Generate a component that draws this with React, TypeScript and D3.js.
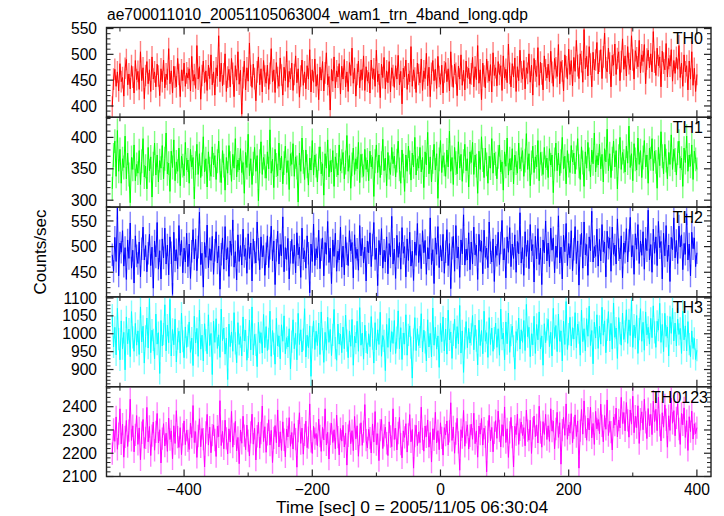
import React from "react";
import * as d3 from "d3";

// Light curve: time bins from -512 s to 400 s (2 s sampling)
const T_START = -512;
const T_END = 400;

const th0 = [
  398, 452, 471, 438, 466, 429, 482, 447, 455, 419, 473, 490, 441, 462, 433, 478, 456, 425, 488, 451,
  467, 432, 505, 449, 474, 414, 459, 486, 443, 470, 428, 495, 452, 466, 437, 481, 458, 420, 472, 447,
  489, 435, 462, 451, 511, 443, 468, 425, 477, 456, 437, 492, 461, 418, 470, 449, 483, 438, 464, 454,
  472, 429, 496, 448, 461, 434, 517, 452, 476, 413, 459, 487, 445, 468, 430, 479, 453, 499, 441, 466,
  421, 474, 458, 536, 447, 483, 439, 462, 501, 428, 456, 471, 437, 492, 463, 418, 478, 450, 505, 442,
  469, 384, 455, 487, 431, 474, 448, 522, 459, 436, 481, 453, 410, 466, 495, 441, 472, 427, 488, 458,
  444, 479, 432, 463, 511, 447, 470, 426, 484, 455, 438, 493, 460, 421, 475, 449, 506, 436, 467, 452,
  483, 430, 461, 497, 445, 472, 417, 458, 489, 440, 466, 433, 478, 452, 509, 427, 470, 446, 491, 438,
  461, 412, 475, 450, 486, 429, 464, 503, 441, 457, 392, 471, 448, 495, 435, 468, 456, 482, 423, 477,
  452, 490, 437, 466, 428, 484, 459, 512, 444, 473, 419, 461, 487, 435, 470, 451, 497, 430, 476, 448,
  465, 425, 489, 453, 472, 438, 508, 447, 462, 416, 481, 455, 494, 433, 468, 445, 486, 427, 474, 459,
  436, 478, 452, 498, 441, 467, 404, 473, 456, 489, 432, 462, 447, 515, 438, 470, 454, 426, 483, 461,
  445, 491, 430, 468, 453, 502, 439, 475, 418, 463, 488, 449, 471, 434, 496, 457, 442, 479, 425, 466,
  484, 447, 472, 429, 505, 458, 436, 481, 463, 420, 477, 452, 499, 440, 469, 431, 487, 455, 473, 443,
  462, 494, 437, 476, 451, 517, 444, 470, 412, 483, 458, 435, 491, 466, 448, 480, 427, 503, 459, 474,
  439, 486, 461, 478, 430, 497, 454, 471, 445, 520, 463, 437, 482, 456, 493, 428, 476, 449, 508, 466,
  452, 488, 433, 474, 463, 501, 446, 479, 421, 492, 468, 457, 513, 440, 485, 462, 431, 497, 470, 454,
  481, 447, 506, 465, 438, 492, 474, 457, 519, 443, 486, 468, 429, 499, 476, 452, 510, 461, 488, 439,
  494, 467, 527, 478, 453, 501, 486, 446, 548, 472, 496, 458, 515, 481, 437, 504, 470, 489, 523, 462,
  487, 509, 453, 495, 541, 474, 466, 512, 483, 437, 498, 479, 520, 461, 492, 505, 449, 486, 530, 471,
  497, 458, 515, 482, 470, 536, 489, 452, 507, 493, 476, 527, 464, 499, 486, 519, 443, 491, 508, 474,
  501, 466, 544, 485, 459, 512, 478, 495, 437, 506, 483, 470, 521, 456, 492, 477, 509, 448, 488, 463,
  494, 471, 517, 455, 483, 438, 499, 466, 478, 431, 487, 452, 505, 440, 473, 428, 461,
];

const th1 = [
  318, 372, 394, 338, 411, 346, 381, 327, 366, 352, 402, 334, 375, 341, 296, 368, 349, 388, 331, 357,
  343, 379, 325, 362, 398, 337, 354, 318, 384, 347, 369, 305, 358, 391, 340, 372, 329, 363, 351, 387,
  334, 366, 407, 342, 359, 314, 378, 352, 396, 331, 361, 346, 383, 323, 370, 355, 339, 392, 348, 364,
  327, 381, 353, 368, 302, 359, 389, 341, 374, 336, 357, 401, 345, 366, 321, 377, 350, 338, 385, 356,
  371, 333, 362, 394, 347, 328, 379, 355, 316, 368, 343, 387, 359, 330, 373, 351, 398, 337, 364, 348,
  382, 344, 360, 311, 376, 352, 405, 339, 366, 325, 358, 384, 346, 371, 299, 362, 393, 341, 368, 354,
  335, 377, 350, 412, 343, 365, 320, 381, 356, 339, 391, 348, 370, 326, 359, 386, 344, 363, 317, 374,
  357, 390, 338, 369, 352, 297, 375, 346, 399, 361, 333, 380, 354, 324, 367, 348, 395, 340, 372, 355,
  329, 366, 385, 342, 358, 308, 374, 351, 396, 337, 363, 345, 379, 322, 369, 356, 340, 388, 347, 362,
  376, 334, 360, 403, 346, 371, 319, 357, 383, 341, 366, 350, 392, 328, 373, 355, 338, 381, 349, 364,
  331, 378, 353, 369, 306, 362, 388, 344, 372, 336, 359, 397, 347, 367, 323, 376, 352, 341, 384, 358,
  370, 337, 363, 394, 349, 327, 380, 355, 314, 372, 346, 386, 360, 332, 375, 353, 400, 340, 366, 351,
  384, 345, 368, 320, 377, 356, 408, 342, 369, 329, 361, 389, 348, 374, 303, 365, 395, 344, 371, 357,
  338, 380, 353, 410, 346, 368, 325, 384, 359, 342, 393, 351, 373, 330, 362, 389, 347, 366, 321, 377,
  360, 392, 341, 372, 355, 311, 378, 349, 401, 364, 336, 383, 357, 327, 370, 351, 398, 343, 375, 358,
  334, 369, 388, 345, 361, 316, 377, 354, 399, 340, 366, 348, 382, 326, 372, 359, 343, 391, 350, 365,
  379, 338, 363, 406, 349, 374, 323, 360, 386, 344, 369, 353, 395, 331, 376, 358, 341, 384, 352, 367,
  336, 382, 356, 372, 312, 365, 391, 347, 375, 339, 362, 400, 350, 370, 326, 379, 355, 344, 387, 361,
  375, 342, 368, 398, 354, 333, 385, 360, 322, 377, 351, 392, 365, 337, 380, 358, 407, 345, 371, 356,
  389, 350, 373, 329, 382, 361, 413, 347, 374, 336, 366, 394, 353, 379, 318, 370, 400, 349, 376, 362,
  345, 386, 359, 418, 352, 374, 331, 390, 365, 348, 399, 357, 379, 336, 368, 395, 353, 372, 327, 383,
  366, 398, 347, 378, 361, 319, 384, 355, 409, 370, 342, 389, 363, 334, 376, 357, 404, 349, 381, 364,
  340, 375, 394, 351, 367, 322, 383, 360, 402, 346, 372, 354, 388, 333, 378, 365, 349,
];

const th2 = [
  484, 452, 518, 471, 575, 443, 507, 489, 531, 462, 498, 436, 513, 477, 546, 458, 493, 429, 521, 482,
  467, 509, 441, 496, 538, 474, 502, 451, 487, 524, 463, 499, 419, 511, 480, 547, 456, 492, 437, 515,
  478, 536, 466, 503, 445, 519, 488, 407, 528, 472, 494, 457, 541, 483, 512, 449, 497, 470, 526, 461,
  505, 438, 491, 533, 476, 514, 453, 499, 567, 465, 487, 421, 508, 479, 542, 459, 496, 473, 520, 446,
  493, 529, 468, 501, 417, 485, 517, 456, 539, 474, 498, 442, 511, 483, 552, 460, 490, 435, 523, 471,
  502, 464, 534, 481, 496, 448, 525, 477, 507, 433, 515, 489, 468, 548, 495, 455, 519, 480, 502, 444,
  486, 521, 459, 497, 540, 472, 511, 426, 493, 530, 466, 504, 482, 558, 451, 498, 475, 516, 437, 489,
  514, 467, 503, 449, 527, 484, 499, 440, 536, 476, 492, 458, 521, 487, 410, 505, 471, 544, 463, 496,
  478, 532, 457, 494, 517, 443, 508, 485, 549, 469, 497, 428, 513, 481, 526, 452, 491, 474, 538, 460,
  501, 445, 519, 486, 463, 531, 492, 508, 439, 523, 477, 495, 454, 541, 482, 516, 468, 499, 433, 511,
  488, 527, 461, 503, 547, 475, 497, 424, 512, 484, 535, 458, 493, 470, 519, 447, 506, 480, 559, 466,
  495, 438, 522, 479, 508, 456, 537, 487, 500, 441, 515, 473, 528, 462, 491, 434, 509, 483, 545, 469,
  504, 457, 531, 488, 512, 446, 498, 476, 556, 465, 494, 428, 517, 485, 539, 459, 502, 472, 524, 448,
  490, 533, 463, 506, 418, 497, 520, 452, 541, 478, 499, 440, 513, 486, 562, 464, 495, 474, 527, 455,
  509, 466, 538, 484, 503, 436, 524, 491, 511, 447, 532, 479, 497, 459, 548, 488, 470, 515, 432, 501,
  483, 528, 465, 507, 551, 474, 496, 439, 519, 489, 537, 461, 505, 477, 523, 450, 510, 486, 566, 468,
  498, 444, 529, 481, 512, 457, 543, 492, 504, 431, 520, 476, 535, 465, 497, 426, 513, 488, 550, 472,
  507, 461, 536, 493, 517, 449, 501, 479, 560, 468, 499, 437, 522, 490, 545, 463, 506, 478, 531, 453,
  495, 539, 467, 511, 425, 502, 526, 458, 548, 484, 504, 444, 519, 492, 569, 470, 500, 481, 534, 462,
  514, 472, 543, 490, 509, 441, 530, 497, 517, 452, 538, 485, 503, 466, 554, 494, 476, 521, 439, 507,
  489, 535, 470, 512, 557, 480, 502, 446, 525, 495, 543, 467, 511, 483, 529, 456, 516, 492, 571, 474,
  504, 450, 534, 487, 519, 463, 549, 498, 510, 437, 526, 482, 541, 471, 503, 432, 518, 494, 556, 478,
  512, 467, 540, 499, 523, 455, 506, 485, 564, 474, 505, 443, 528, 496, 517, 461, 488,
];

const th3 = [
  1052, 963, 1018, 941, 1071, 985, 927, 1036, 958, 1004, 899, 1047, 972, 1013, 936, 1062, 990, 951, 1029, 968,
  1008, 942, 1075, 977, 1021, 918, 993, 1044, 960, 1098, 947, 1010, 983, 930, 1055, 971, 1003, 889, 1037, 966,
  999, 1081, 952, 1024, 975, 1096, 938, 1012, 969, 1041, 921, 986, 1007, 946, 1058, 979, 933, 1019, 962, 995,
  1033, 948, 988, 911, 1049, 974, 1015, 937, 1066, 957, 996, 924, 1028, 982, 944, 1053, 967, 1001, 886, 1035,
  976, 1042, 959, 997, 934, 1069, 981, 1016, 943, 988, 872, 1027, 964, 1005, 951, 1059, 973, 919, 1031, 970,
  992, 938, 1047, 980, 1010, 926, 963, 1038, 955, 1075, 941, 998, 969, 908, 1032, 975, 1003, 946, 1054, 961,
  1020, 953, 986, 1063, 937, 1009, 972, 915, 1043, 966, 994, 930, 1025, 979, 1050, 944, 989, 963, 1014, 902,
  978, 1039, 958, 1001, 927, 1057, 970, 1011, 949, 984, 1070, 935, 996, 961, 1022, 881, 990, 1036, 956, 1007,
  967, 1030, 942, 1061, 985, 920, 1004, 954, 1046, 976, 1012, 939, 997, 1068, 960, 926, 1027, 971, 999, 947,
  1019, 958, 1052, 981, 933, 1008, 965, 1040, 912, 993, 974, 1035, 951, 1073, 968, 1002, 929, 1024, 977, 944,
  1000, 964, 1048, 986, 918, 1031, 955, 1011, 970, 1060, 937, 995, 980, 897, 1026, 962, 1043, 950, 1006, 973,
  1037, 945, 989, 1064, 958, 1017, 928, 1002, 971, 1053, 940, 997, 1022, 961, 876, 984, 1045, 953, 1014, 967,
  991, 1056, 949, 1010, 976, 924, 1039, 963, 1001, 935, 1072, 968, 1018, 957, 994, 906, 1029, 978, 1047, 952,
  1013, 943, 1066, 983, 1005, 931, 997, 1041, 959, 1020, 972, 1079, 946, 1008, 892, 987, 1034, 961, 1015, 974,
  998, 1051, 955, 1024, 981, 913, 1038, 967, 1009, 944, 1063, 979, 1003, 934, 1045, 970, 1016, 951, 988, 1030,
  962, 1014, 940, 1069, 985, 1002, 927, 1033, 972, 1058, 948, 996, 1021, 965, 901, 1006, 982, 1044, 957, 1011,
  976, 1037, 953, 1082, 992, 1018, 936, 1000, 969, 1049, 945, 1026, 983, 1061, 958, 994, 912, 1028, 975, 1012,
  1040, 964, 1004, 938, 1071, 987, 1023, 950, 1055, 979, 1008, 924, 1035, 970, 1090, 956, 999, 1046, 966, 1017,
  985, 1059, 961, 1027, 1003, 940, 1066, 978, 1014, 952, 1042, 993, 1077, 967, 1009, 916, 1032, 988, 1053, 959,
  1021, 971, 1074, 996, 1036, 947, 1011, 1062, 980, 1029, 957, 1086, 990, 1016, 931, 1045, 1002, 968, 1058, 984,
  1007, 1067, 973, 1039, 995, 1094, 962, 1024, 988, 1051, 945, 1013, 1070, 979, 1032, 954, 1061, 997, 1018, 971,
  1043, 989, 1078, 1004, 962, 1035, 1010, 1085, 976, 1026, 950, 1057, 993, 1019, 938, 1048, 1001, 1072, 980, 1030,
  966, 1041, 998, 1015, 945, 1063, 983, 1022, 952, 1034, 971, 936, 1008, 959, 987, 928, 954,
];

const th0123 = [
  2198, 2302, 2251, 2356, 2217, 2284, 2391, 2240, 2325, 2183, 2270, 2341, 2229, 2297, 2432, 2255, 2318, 2206, 2279, 2362,
  2238, 2309, 2172, 2288, 2345, 2221, 2266, 2397, 2249, 2315, 2190, 2276, 2334, 2213, 2292, 2371, 2244, 2301, 2158, 2263,
  2327, 2231, 2286, 2208, 2351, 2259, 2296, 2176, 2318, 2242, 2383, 2269, 2225, 2310, 2194, 2281, 2339, 2237, 2299, 2253,
  2216, 2330, 2267, 2405, 2246, 2293, 2182, 2274, 2348, 2228, 2306, 2261, 2141, 2289, 2367, 2235, 2312, 2202, 2278, 2322,
  2257, 2186, 2316, 2271, 2426, 2233, 2294, 2219, 2342, 2264, 2197, 2305, 2248, 2380, 2226, 2283, 2337, 2210, 2268, 2155,
  2300, 2243, 2359, 2276, 2215, 2321, 2254, 2188, 2290, 2368, 2239, 2307, 2171, 2273, 2333, 2222, 2287, 2403, 2250, 2314,
  2204, 2281, 2344, 2235, 2298, 2160, 2266, 2319, 2245, 2386, 2227, 2292, 2212, 2335, 2258, 2184, 2304, 2270, 2353, 2230,
  2289, 2218, 2327, 2261, 2140, 2295, 2374, 2242, 2308, 2196, 2279, 2338, 2224, 2267, 2412, 2251, 2199, 2316, 2263, 2285,
  2232, 2347, 2274, 2208, 2311, 2257, 2391, 2236, 2290, 2175, 2283, 2329, 2246, 2301, 2219, 2364, 2269, 2193, 2306, 2252,
  2320, 2227, 2286, 2149, 2275, 2340, 2241, 2297, 2211, 2358, 2262, 2318, 2187, 2280, 2331, 2234, 2293, 2409, 2256, 2223,
  2303, 2265, 2201, 2326, 2248, 2379, 2237, 2284, 2168, 2299, 2345, 2220, 2277, 2312, 2243, 2190, 2335, 2272, 2228, 2391,
  2259, 2308, 2214, 2287, 2354, 2239, 2180, 2296, 2268, 2327, 2205, 2281, 2366, 2249, 2302, 2136, 2274, 2320, 2233, 2291,
  2246, 2398, 2262, 2209, 2317, 2271, 2343, 2226, 2289, 2162, 2305, 2258, 2376, 2244, 2297, 2215, 2331, 2266, 2192, 2310,
  2278, 2339, 2236, 2294, 2417, 2255, 2313, 2200, 2284, 2350, 2247, 2127, 2301, 2267, 2384, 2230, 2290, 2322, 2218, 2275,
  2325, 2260, 2372, 2241, 2296, 2183, 2317, 2282, 2349, 2235, 2308, 2270, 2120, 2293, 2363, 2253, 2311, 2206, 2288, 2340,
  2264, 2381, 2296, 2227, 2323, 2273, 2399, 2246, 2305, 2182, 2290, 2354, 2269, 2141, 2316, 2280, 2368, 2238, 2301, 2334,
  2276, 2310, 2232, 2385, 2297, 2256, 2342, 2199, 2307, 2360, 2271, 2322, 2244, 2402, 2289, 2226, 2336, 2281, 2367, 2259,
  2318, 2251, 2391, 2295, 2338, 2219, 2304, 2376, 2268, 2331, 2153, 2299, 2354, 2277, 2412, 2260, 2322, 2286, 2370, 2245,
  2309, 2365, 2272, 2339, 2136, 2297, 2388, 2282, 2425, 2314, 2256, 2351, 2300, 2398, 2266, 2328, 2238, 2380, 2305, 2345,
  2284, 2411, 2318, 2249, 2362, 2303, 2429, 2276, 2337, 2291, 2214, 2356, 2321, 2394, 2270, 2343, 2309, 2440, 2328, 2375,
  2296, 2418, 2341, 2269, 2386, 2325, 2445, 2288, 2359, 2310, 2404, 2242, 2346, 2378, 2301, 2432, 2333, 2263, 2392, 2318,
  2367, 2280, 2424, 2336, 2389, 2297, 2441, 2320, 2253, 2374, 2312, 2408, 2344, 2226, 2361, 2298, 2437, 2329, 2383, 2275,
  2352, 2413, 2304, 2238, 2371, 2322, 2395, 2268, 2340, 2212, 2357, 2293, 2381, 2261, 2327, 2284, 2310,
];

const panelNames = ["TH0", "TH1", "TH2", "TH3", "TH0123"];
const panelSeries = [th0, th1, th2, th3, th0123];
const panelErrors = [21, 19, 22, 31, 48];
const panelColors = ["#ff0000", "#00ff00", "#0000ff", "#00ffff", "#ff00ff"];
const yDomains: [number, number][] = [
  [378, 552],
  [289, 432],
  [402, 577],
  [852, 1103],
  [2100, 2486],
];
const yMajorTicks = [
  [400, 450, 500, 550],
  [300, 350, 400],
  [450, 500, 550],
  [900, 950, 1000, 1050, 1100],
  [2100, 2200, 2300, 2400],
];
const yMinorSteps = [10, 10, 10, 10, 20];
const xMajorTicks = [-400, -200, 0, 200, 400];
const xMinorTicks = [-500, -300, -100, 100, 300];
const xDomain: [number, number] = [-521, 422];

const titleText = "ae700011010_20051105063004_wam1_trn_4band_long.qdp";
const xLabelText = "Time [sec] 0 = 2005/11/05 06:30:04";
const yLabelText = "Counts/sec";

const W = 724;
const H = 516;
const LEFT = 106.5;
const RIGHT = 711;
const TOP = 27.5;
const PANEL_H = 89.8;
const FONT = "'Liberation Sans', Arial, Helvetica, sans-serif";
const LABEL_RIGHT = [703, 703, 703, 703, 708];

export default function App() {
  const x = d3.scaleLinear().domain(xDomain).range([LEFT, RIGHT]);
  const bottom = TOP + PANEL_H * panelNames.length;

  return (
    <div style={{ position: "fixed", left: 0, top: 0 }}>
      <svg width={W} height={H} style={{ display: "block", background: "#fff" }} fontFamily={FONT}>
        <defs>
          {panelNames.map((n, i) => (
            <clipPath id={`clip-${i}`} key={n}>
              <rect x={LEFT} y={TOP + i * PANEL_H} width={RIGHT - LEFT} height={PANEL_H} />
            </clipPath>
          ))}
        </defs>
        <text x={107} y={19.5} fontSize={15.6} fill="#000">
          {titleText}
        </text>
        {panelNames.map((name, i) => {
          const top = TOP + i * PANEL_H;
          const y = d3.scaleLinear().domain(yDomains[i]).range([top + PANEL_H, top]);
          const vals = panelSeries[i];
          const n = vals.length;
          const t = d3.scaleLinear().domain([0, n - 1]).range([T_START, T_END]);
          const err = panelErrors[i];
          const errPath = vals
            .map((v, j) => `M${x(t(j)).toFixed(2)},${y(v - err).toFixed(2)}V${y(v + err).toFixed(2)}`)
            .join("");
          const line = d3
            .line<number>()
            .x((_, j) => x(t(j)))
            .y((v) => y(v));
          const [d0, d1] = yDomains[i];
          const step = yMinorSteps[i];
          const minor = d3
            .range(Math.ceil(d0 / step) * step, d1 + 0.001, step)
            .filter((v) => !yMajorTicks[i].includes(v));
          const color = panelColors[i];
          return (
            <g key={name}>
              <g clipPath={`url(#clip-${i})`}>
                <path d={errPath} stroke={color} strokeOpacity={0.5} strokeWidth={1.4} fill="none" />
                <path d={line(vals) || ""} stroke={color} strokeWidth={1} fill="none" />
              </g>
              <rect
                x={LEFT}
                y={top}
                width={RIGHT - LEFT}
                height={PANEL_H}
                fill="none"
                stroke="#222"
                strokeWidth={1.4}
              />
              {yMajorTicks[i].map((v) => (
                <g key={`M${v}`}>
                  <line x1={LEFT} x2={LEFT + 7} y1={y(v)} y2={y(v)} stroke="#222" strokeWidth={1.2} />
                  <line x1={RIGHT} x2={RIGHT - 7} y1={y(v)} y2={y(v)} stroke="#222" strokeWidth={1.2} />
                  <text x={97} y={y(v)} dy="0.36em" textAnchor="end" fontSize={15.6} fill="#000">
                    {v}
                  </text>
                </g>
              ))}
              {minor.map((v) => (
                <g key={`m${v}`}>
                  <line x1={LEFT} x2={LEFT + 4} y1={y(v)} y2={y(v)} stroke="#222" strokeWidth={1} />
                  <line x1={RIGHT} x2={RIGHT - 4} y1={y(v)} y2={y(v)} stroke="#222" strokeWidth={1} />
                </g>
              ))}
              {xMajorTicks.map((v) => (
                <g key={`xM${v}`}>
                  <line x1={x(v)} x2={x(v)} y1={top} y2={top + 7} stroke="#222" strokeWidth={1.2} />
                  <line x1={x(v)} x2={x(v)} y1={top + PANEL_H} y2={top + PANEL_H - 7} stroke="#222" strokeWidth={1.2} />
                </g>
              ))}
              {xMinorTicks.map((v) => (
                <g key={`xm${v}`}>
                  <line x1={x(v)} x2={x(v)} y1={top} y2={top + 4} stroke="#222" strokeWidth={1} />
                  <line x1={x(v)} x2={x(v)} y1={top + PANEL_H} y2={top + PANEL_H - 4} stroke="#222" strokeWidth={1} />
                </g>
              ))}
              <text x={LABEL_RIGHT[i]} y={top + 16} textAnchor="end" fontSize={16} fill="#000">
                {name}
              </text>
            </g>
          );
        })}
        {xMajorTicks.map((v) => (
          <text key={`xl${v}`} x={x(v)} y={bottom + 18} textAnchor="middle" fontSize={15.6} fill="#000">
            {v < 0 ? `\u2212${Math.abs(v)}` : `${v}`}
          </text>
        ))}
        <text x={412} y={bottom + 36} textAnchor="middle" fontSize={17.4} fill="#000">
          {xLabelText}
        </text>
        <text
          transform={`translate(46,${(TOP + bottom) / 2}) rotate(-90)`}
          textAnchor="middle"
          fontSize={17}
          fill="#000"
        >
          {yLabelText}
        </text>
      </svg>
    </div>
  );
}
